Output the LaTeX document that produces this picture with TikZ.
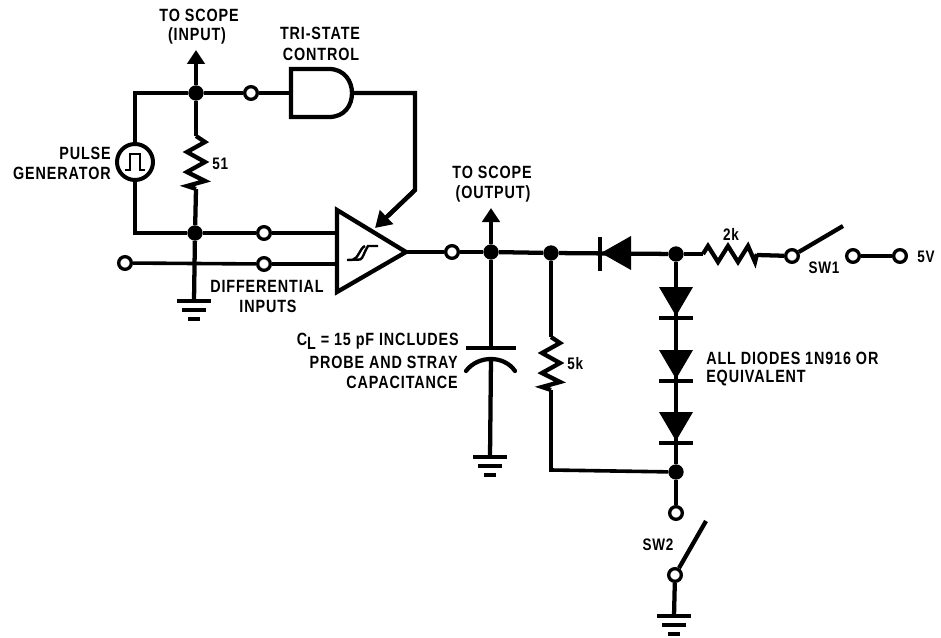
\documentclass[tikz,border=0pt]{standalone}
\usepackage{fontspec}
\setmainfont{Liberation Sans}[FakeStretch=0.81,LetterSpace=5]
\usetikzlibrary{arrows.meta}
\tikzset{
  x=0.75pt,y=-0.75pt,
  wire/.style={line width=3.2pt,line cap=butt,line join=miter},
  lightwire/.style={line width=2.7pt,line cap=butt,line join=miter},
  junc/.style={circle,fill=black,inner sep=0pt,minimum size=11.5pt},
  opn/.style={circle,draw=black,fill=white,line width=2.5pt,inner sep=0pt,minimum size=9.5pt},
  lbl/.style={inner sep=0pt,font=\bfseries\fontsize{13.3pt}{16pt}\selectfont},
  small lbl/.style={inner sep=0pt,font=\bfseries\fontsize{12.5pt}{15pt}\selectfont},
  arrowwire/.style={wire,-{Triangle[length=10.5pt,width=13pt]}},
  pics/gnd/.style={code={
    \draw[line width=2.9pt] (-17,0) -- (17,0);
    \draw[line width=2.9pt] (-12,9) -- (12,9);
    \draw[line width=2.9pt] (-6,18) -- (6,18);
  }},
  pics/diodedn/.style={code={
    \fill (-17,0) -- (17,0) -- (0,29) -- cycle;
    \draw[line width=2.9pt] (-17,31) -- (17,31);
  }},
  pics/resv/.style={code={
    \draw[wire,line join=miter] (0,0) -- (9,6) -- (-9,16) -- (9,26) -- (-9,36) -- (9,45) -- (-9,50) -- (0,53);
  }},
  pics/resh/.style={code={
    \draw[wire] (0,0) -- (5,-8) -- (15,8) -- (25,-8) -- (35,8) -- (45,-8) -- (52,8) -- (54,0);
  }},
}
\begin{document}
\begin{tikzpicture}
\useasboundingbox (0,0) rectangle (941,638);
% nodes
\node[junc] (jTop) at (196,93) {};
\node[junc] (jBot) at (195,233) {};
\node[opn] (oGate) at (251,93) {};
\node[opn] (oIn1) at (264,233) {};
\node[opn] (oIn2) at (264,264) {};
\node[opn] (oFar) at (125,263) {};
\node[circle,draw,line width=3pt,inner sep=0pt,minimum size=27pt] (pg) at (135,162) {};
\node[opn] (oOut) at (452,252) {};
\node[junc] (jOut) at (491,252) {};
\node[junc] (jRes) at (551,253) {};
\node[junc] (jDio) at (676,254) {};
\node[junc] (jLow) at (676,472) {};
\node[opn] (oSw1) at (792,256) {};
\node[opn] (oSw1b) at (853,256) {};
\node[opn] (o5v) at (900,256) {};
\node[opn] (oSw2a) at (676,513) {};
\node[opn] (oSw2b) at (675,575) {};
\coordinate (ampIn1) at (337,233);
\coordinate (ampIn2) at (337,264);
\coordinate (ampOut) at (406,252);
\coordinate (gateIn) at (291,93);
\coordinate (gateOut) at (352,93);
\coordinate (cornerTL) at (135,93);
\coordinate (cornerBL) at (135,233);
\coordinate (tipIn) at (196,50);
\coordinate (tipOut) at (491,208);
\coordinate (tipAmp) at (375,228);
\coordinate (rTop) at (196,136);
\coordinate (rBot) at (196,189);
\coordinate (r5Top) at (551,337);
\coordinate (r5Bot) at (551,390);
\coordinate (r2L) at (703,254);
\coordinate (r2R) at (757,255);
\coordinate (capA) at (491,348);
\coordinate (capB) at (491,358);
\coordinate (gA) at (194,301);
\coordinate (gB) at (490,457);
\coordinate (gC) at (674,616);
\coordinate (cnr5) at (551,470);
\coordinate (sw1end) at (843,226);
\coordinate (sw2end) at (706,521);
% wires
\draw[wire] (jTop) -- (cornerTL) -- (pg);
\draw[wire] (pg) -- (cornerBL) -- (jBot);
\draw[arrowwire] (jTop) -- (tipIn);
\draw[wire] (jTop) -- (oGate);
\draw[lightwire] (oGate) -- (gateIn);
\draw[wire] (jTop) -- (rTop);
\draw[wire] (rBot) -- (jBot);
\draw[wire] (jBot) -- (oIn1);
\draw[wire] (oIn1) -- (ampIn1);
\draw[lightwire] (oFar) -- (oIn2);
\draw[lightwire] (oIn2) -- (ampIn2);
\draw[wire] (jBot) -- (gA);
\draw[wire] (gateOut) -- (415,93) -- (415,190) -- (388,216);
\draw[wire,-{Triangle[length=12pt,width=14pt]}] (415,190) -- (tipAmp);
\draw[wire] (ampOut) -- (oOut);
\draw[wire] (oOut) -- (jOut);
\draw[wire] (jOut) -- (jRes);
\draw[wire] (jRes) -- (jDio);
\draw[arrowwire] (jOut) -- (tipOut);
\draw[wire] (jOut) -- (capA);
\draw[wire] (capB) -- (gB);
\draw[lightwire] (jRes) -- (r5Top);
\draw[lightwire] (r5Bot) -- (cnr5) -- (jLow);
\draw[wire] (jDio) -- (jLow);
\draw[wire] (jLow) -- (oSw2a);
\draw[wire] (oSw2b) -- (gC);
\draw[wire] (jDio) -- (r2L);
\draw[wire] (r2R) -- (oSw1);
\draw[wire] (oSw1) -- (sw1end);
\draw[wire] (oSw1b) -- (o5v);
\draw[wire] (oSw2b) -- (sw2end);
% AND gate
\draw[wire,fill=white] (291,69) -- (329,69) .. controls (345,69) and (352,82) .. (352,93) .. controls (352,105) and (345,117) .. (329,117) -- (291,117) -- cycle;
% amplifier
\draw[wire,fill=white,line join=miter] (337,210) -- (406,252) -- (337,292) -- cycle;
\draw[line width=1.8pt] (347,260) -- (360,259.5) .. controls (363,259) and (364,252) .. (368,246) -- (378,246);
\draw[line width=1.8pt] (353,259.5) .. controls (358,259) and (360,248) .. (365,246);
% pulse glyph
\draw[line width=2.2pt] (125,170) -- (130,170) -- (130,154) -- (140,154) -- (140,170) -- (145,170);
% resistors
\pic at (rTop) {resv};
\pic at (r5Top) {resv};
\pic at (r2L) {resh};
% capacitor
\draw[wire] (466,348) -- (516,348);
\draw[wire,line cap=round] (466,371) .. controls (478,355) and (504,355) .. (515,371);
% diodes
\fill (631,236) -- (631,270) -- (601,253) -- cycle;
\draw[wire] (600,237) -- (600,271);
\pic at (676,287) {diodedn};
\pic at (676,350) {diodedn};
\pic at (676,412) {diodedn};
% grounds
\pic at (gA) {gnd};
\pic at (gB) {gnd};
\pic at (gC) {gnd};
% labels
\node[lbl] (t1) at (199,15) {TO SCOPE};
\node[lbl] (t2) at (197,36) {(INPUT)};
\node[lbl] (t3) at (320,33) {TRI-STATE};
\node[lbl] (t4) at (321,54) {CONTROL};
\node[lbl,anchor=east] (t5) at (111,153) {PULSE};
\node[lbl,anchor=east] (t6) at (111,173) {GENERATOR};
\node[small lbl,anchor=west] (t7) at (212,164) {51};
\node[lbl] (t8) at (267,286) {DIFFERENTIAL};
\node[lbl] (t9) at (268,306) {INPUTS};
\node[lbl] (t10) at (492,172) {TO SCOPE};
\node[lbl] (t11) at (493,194) {(OUTPUT)};
\node[small lbl] (t12) at (731,234) {2k};
\node[small lbl] (t13) at (824,268) {SW1};
\node[small lbl,anchor=west] (t14) at (917,257) {5V};
\node[small lbl,anchor=west] (t15) at (567,364) {5k};
\node[lbl,anchor=west] (t16) at (706,358) {ALL DIODES 1N916 OR};
\node[lbl,anchor=west] (t17) at (706,378) {EQUIVALENT};
\node[lbl,anchor=east] (t18) at (459,341) {C\raisebox{-3pt}{L} = 15 pF INCLUDES};
\node[lbl,anchor=east] (t19) at (458,362) {PROBE AND STRAY};
\node[lbl,anchor=east] (t20) at (458,382) {CAPACITANCE};
\node[small lbl] (t21) at (658,545) {SW2};
\end{tikzpicture}
\end{document}
